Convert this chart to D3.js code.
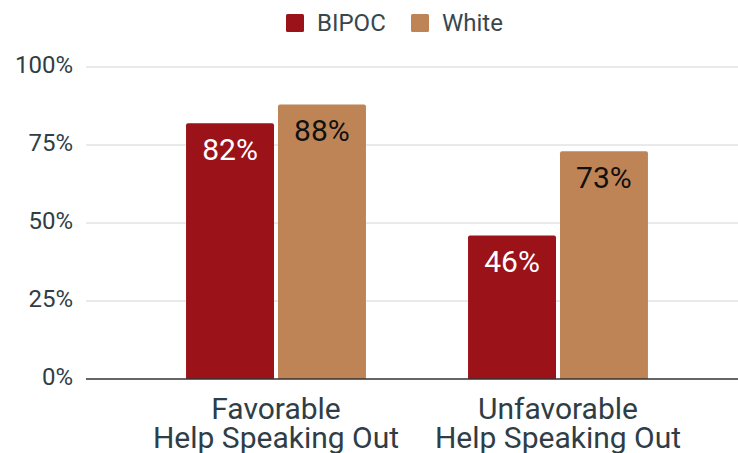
<!DOCTYPE html>
<html>
<head>
<meta charset="utf-8">
<script src="https://cdn.jsdelivr.net/npm/d3@7"></script>
<style>
  html, body { margin: 0; padding: 0; background: #fff; }
  svg { display: block; font-family: Roboto, "Noto Sans", sans-serif; }
</style>
</head>
<body>
<svg id="chart" width="738" height="453"></svg>
<script>
// Categories (two-line labels) and series
const categories = ["Favorable\nHelp Speaking Out", "Unfavorable\nHelp Speaking Out"];
const seriesNames = ["BIPOC", "White"];
const bipocValues = [82, 46];
const whiteValues = [88, 73];
const yTicks = [0, 25, 50, 75, 100];
const colors = ["#9b1219", "#bf8456"];
const labelColors = ["#ffffff", "#111111"];

const svg = d3.select("#chart");
const gridLeft = 86, gridRight = 738;
const plotTop = 67, plotBottom = 379;

const y = d3.scaleLinear().domain([0, 100]).range([plotBottom, plotTop]);
const x0 = d3.scaleBand().domain(categories).range([135, 699]).paddingInner(0.362).paddingOuter(0.181);
const x1 = d3.scaleBand().domain(seriesNames).range([0, x0.bandwidth()]).paddingInner(0.0435);

// Gridlines
svg.append("g").selectAll("line").data(yTicks.filter(d => d > 0)).join("line")
  .attr("x1", gridLeft).attr("x2", gridRight)
  .attr("y1", d => y(d)).attr("y2", d => y(d))
  .attr("stroke", "#d4d4d4").attr("stroke-width", 1);

// Y axis tick labels
svg.append("g").selectAll("text").data(yTicks).join("text")
  .attr("x", 73).attr("y", d => y(d))
  .attr("text-anchor", "end").attr("dominant-baseline", "middle")
  .attr("font-size", 24).attr("fill", "#2f3e46")
  .text(d => d + "%");

// Bars with value labels
const rows = categories.map((c, i) => ({ cat: c, vals: [bipocValues[i], whiteValues[i]] }));
const groups = svg.append("g").selectAll("g").data(rows).join("g")
  .attr("transform", d => `translate(${x0(d.cat)},0)`);

groups.each(function(d) {
  const g = d3.select(this);
  d.vals.forEach((v, j) => {
    const bx = x1(seriesNames[j]), bw = x1.bandwidth();
    const by = y(v), bh = y(0) - y(v), r = 2;
    g.append("path")
      .attr("d", `M${bx},${by + bh} V${by + r} Q${bx},${by} ${bx + r},${by} H${bx + bw - r} Q${bx + bw},${by} ${bx + bw},${by + r} V${by + bh} Z`)
      .attr("fill", colors[j]);
    g.append("text")
      .attr("x", bx + bw / 2).attr("y", by + 37)
      .attr("text-anchor", "middle")
      .attr("font-size", 30).attr("fill", labelColors[j])
      .text(v + "%");
  });
});

// Baseline
svg.append("line").attr("x1", gridLeft).attr("x2", gridRight)
  .attr("y1", y(0)).attr("y2", y(0))
  .attr("stroke", "#333").attr("stroke-width", 1.5);

// Category labels
svg.append("g").selectAll("text").data(categories).join("text")
  .attr("text-anchor", "middle").attr("font-size", 30).attr("fill", "#2f3e46")
  .each(function(c) {
    const t = d3.select(this);
    c.split("\n").forEach((line, k) => {
      t.append("tspan")
        .attr("x", x0(c) + x0.bandwidth() / 2)
        .attr("y", 419 + k * 28.5)
        .text(line);
    });
  });

// Legend
const legend = svg.append("g");
const legendItems = [{ name: seriesNames[0], x: 286 }, { name: seriesNames[1], x: 411 }];
legendItems.forEach((it, i) => {
  legend.append("rect").attr("x", it.x).attr("y", 14).attr("width", 18).attr("height", 18)
    .attr("rx", 1.5).attr("fill", colors[i]);
  legend.append("text").attr("x", it.x + 31).attr("y", 30.5)
    .attr("font-size", 24).attr("fill", "#37474f")
    .text(it.name);
});
</script>
</body>
</html>
